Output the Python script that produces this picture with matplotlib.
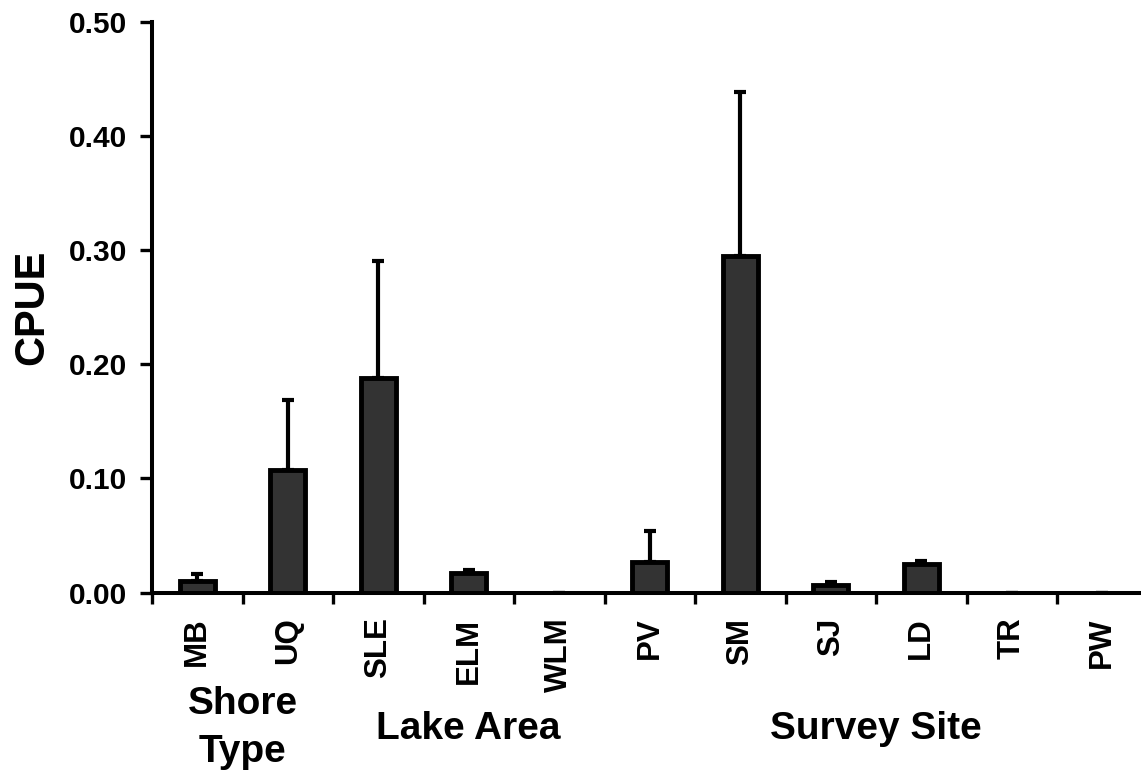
import numpy as np
import matplotlib
matplotlib.use("Agg")
import matplotlib.pyplot as plt
from matplotlib.ticker import FixedLocator, MultipleLocator

plt.rcParams["font.family"] = ["Liberation Sans", "DejaVu Sans"]
plt.rcParams["font.weight"] = "bold"

# data
sites = ["MB", "UQ", "SLE", "ELM", "WLM", "PV", "SM", "SJ", "LD", "TR", "PW"]
cpue = [0.010, 0.107, 0.188, 0.017, 0.0, 0.027, 0.295, 0.007, 0.025, 0.0, 0.0]
se = [0.006, 0.062, 0.102, 0.003, 0.0, 0.027, 0.143, 0.002, 0.003, 0.0, 0.0]
groups = ["Shore", "Lake Area", "Survey Site"]
group_members = [["MB", "UQ"], ["SLE", "ELM", "WLM"], ["PV", "SM", "SJ", "LD", "TR", "PW"]]

fig = plt.figure(figsize=(11.41, 7.72), dpi=100)
ax = fig.add_axes([152/1141, 0.2325, 995.5/1141, 0.7394])

x = np.arange(len(sites))
ax.bar(x, cpue, width=0.39, color="#333333", edgecolor="black", linewidth=3.5, zorder=2)
# upper error bars only
ax.errorbar(x, cpue, yerr=[np.zeros(len(se)), se], fmt="none", ecolor="black",
            elinewidth=3, capsize=4.5, capthick=3, zorder=1)

ax.set_xlim(-0.5, len(sites) - 0.5)
ax.set_ylim(0, 0.5)
ax.yaxis.set_major_locator(MultipleLocator(0.1))
ax.yaxis.set_major_formatter(matplotlib.ticker.FormatStrFormatter("%.2f"))

for s in ["top", "right"]:
    ax.spines[s].set_visible(False)
for s in ["left", "bottom"]:
    ax.spines[s].set_linewidth(2.9)

ax.set_xticks(x)
ax.set_xticklabels(sites, rotation=90, fontsize=22.5, fontweight="bold")
ax.xaxis.set_minor_locator(FixedLocator(np.arange(-0.5, len(sites), 1.0)))
ax.tick_params(axis="x", which="major", length=0, pad=18)
ax.tick_params(axis="x", which="minor", length=8, width=2.4, direction="out")
ax.tick_params(axis="y", which="major", length=8.6, width=2.4, pad=9, labelsize=21.5)
for t in ax.get_yticklabels():
    t.set_fontweight("bold")

ax.set_ylabel("CPUE", fontsize=30, fontweight="bold")
ax.yaxis.set_label_coords(-0.1005, 0.5)

tr = ax.get_xaxis_transform()
centers = [np.mean([sites.index(m) for m in g]) for g in group_members]
ax.text(centers[0], -0.2129, "Shore", transform=tr, ha="center", va="baseline",
        fontsize=28, fontweight="bold")
ax.text(centers[0], -0.2964, "Type", transform=tr, ha="center", va="baseline",
        fontsize=28, fontweight="bold")
ax.text(centers[1], -0.2572, groups[1], transform=tr, ha="center", va="baseline",
        fontsize=28, fontweight="bold")
ax.text(centers[2], -0.2572, groups[2], transform=tr, ha="center", va="baseline",
        fontsize=28, fontweight="bold")

fig.savefig("out.png", dpi=100)
